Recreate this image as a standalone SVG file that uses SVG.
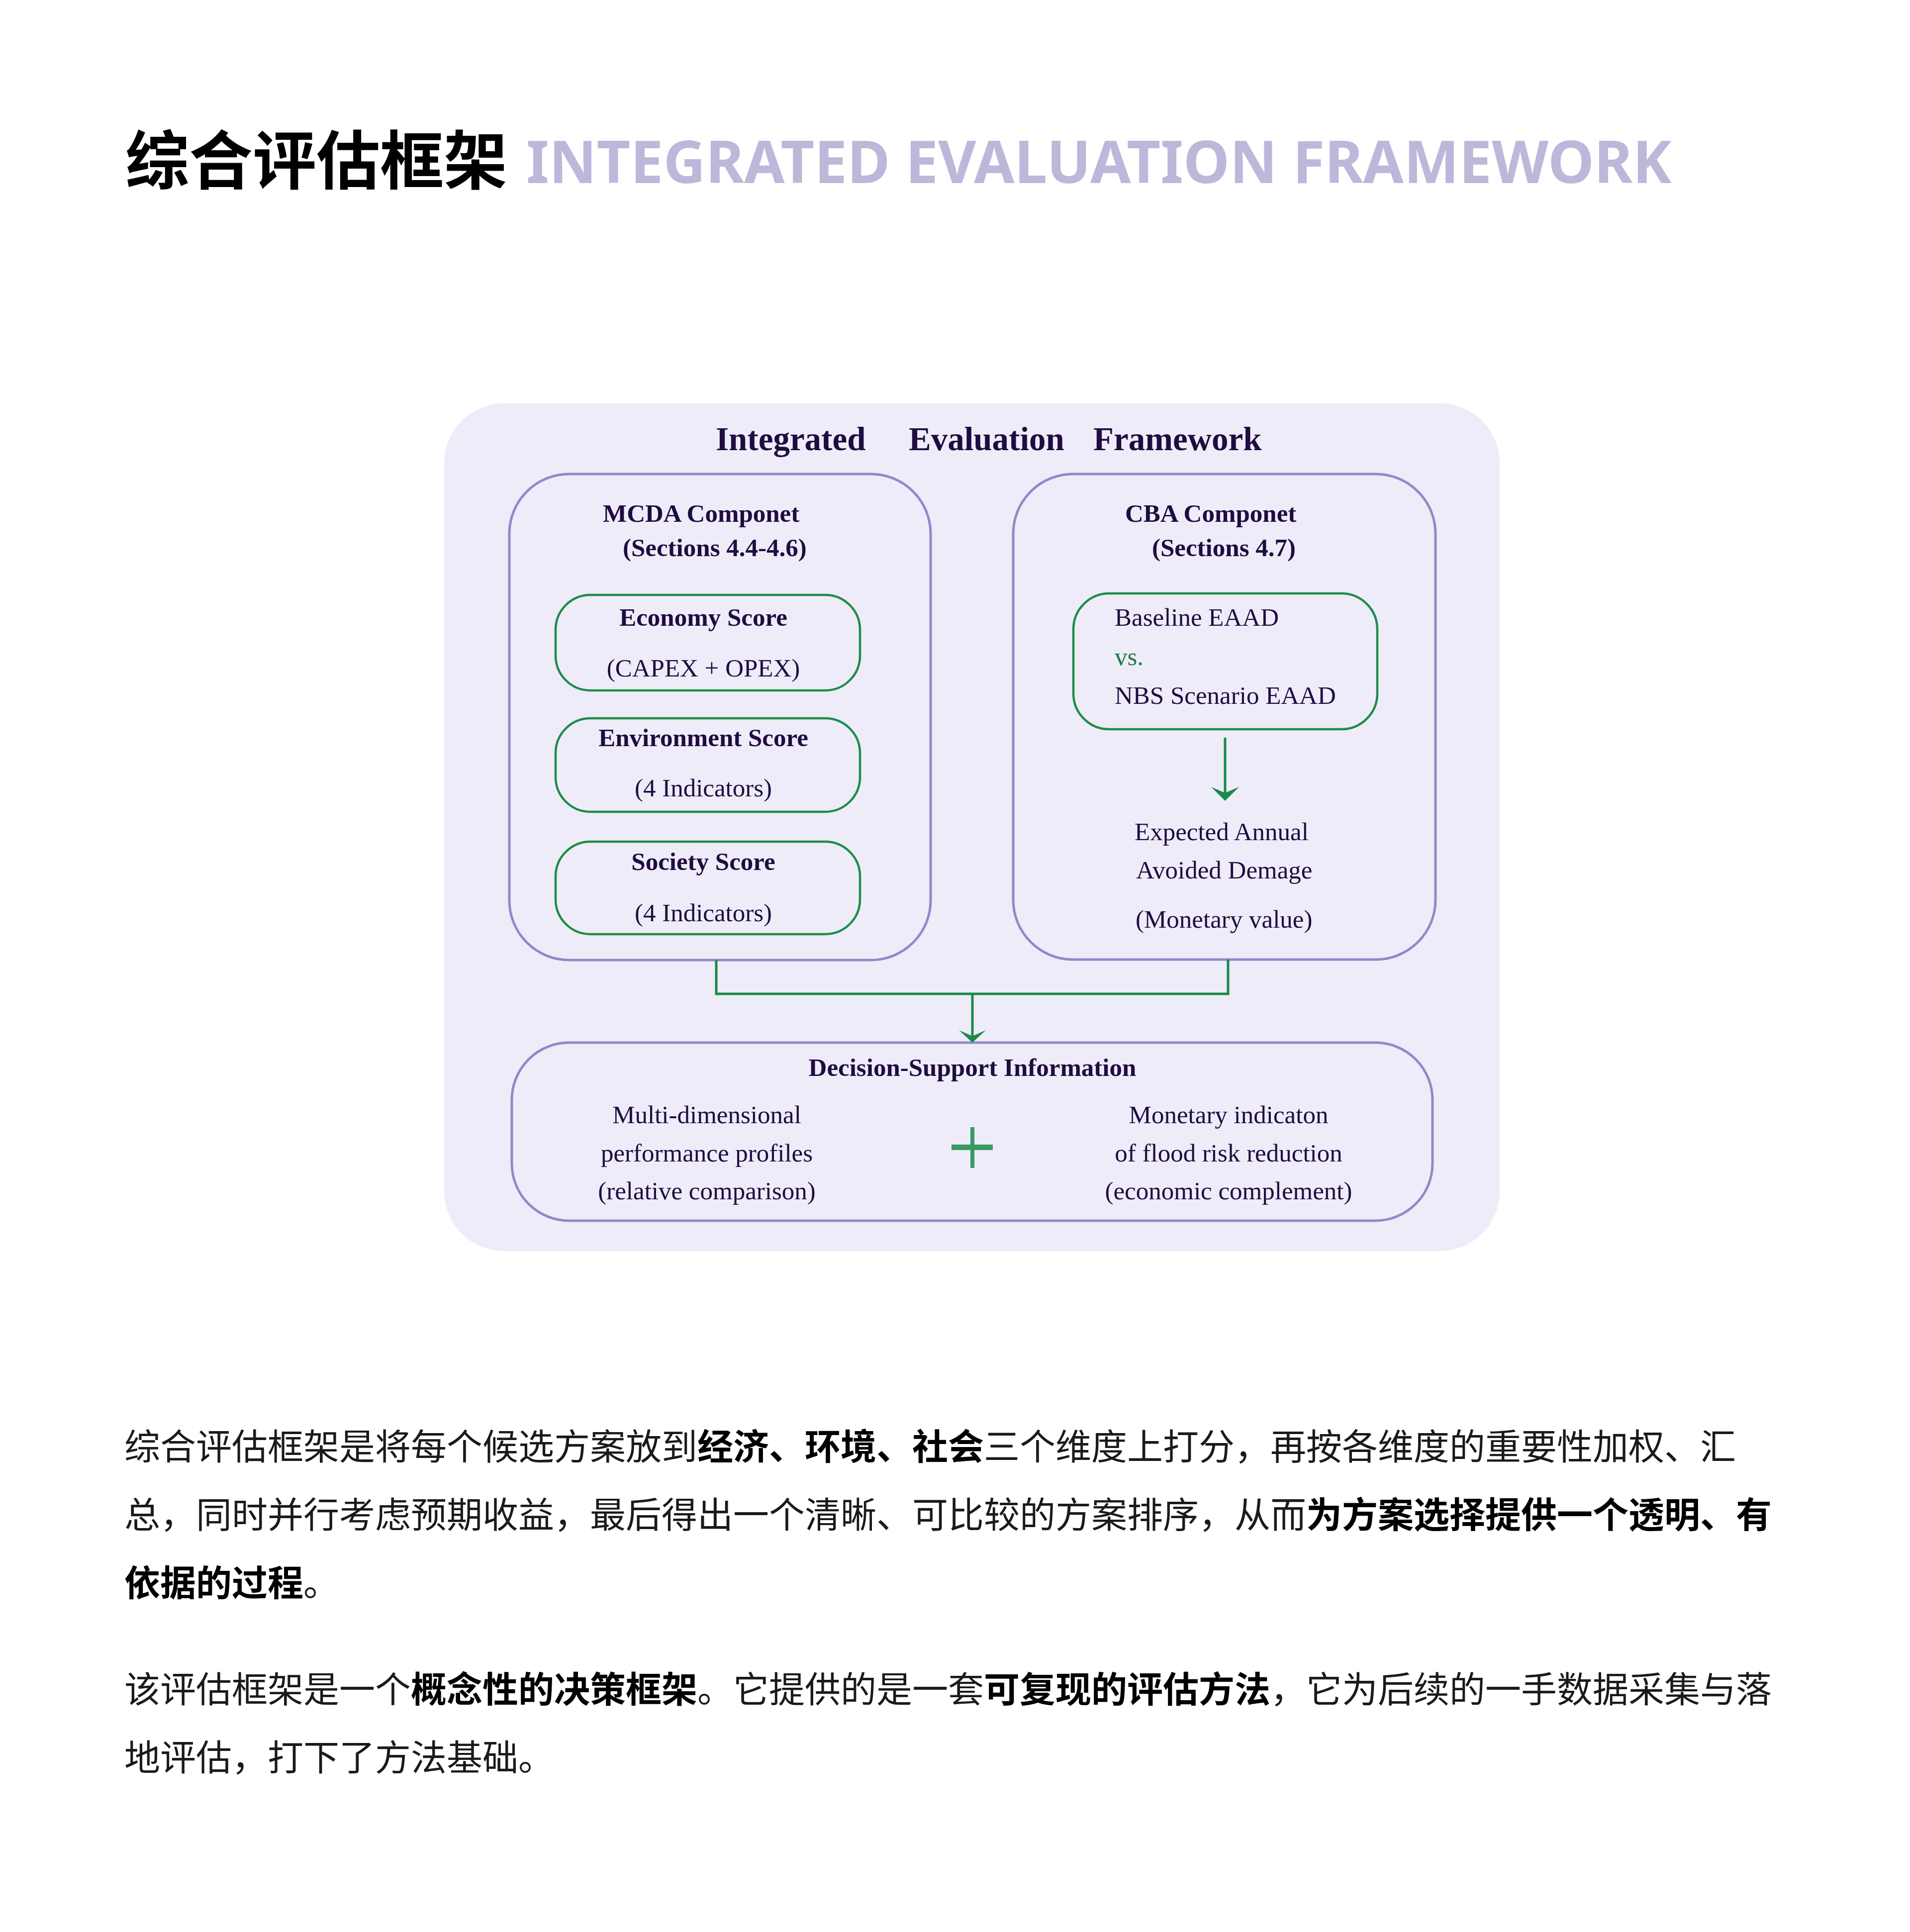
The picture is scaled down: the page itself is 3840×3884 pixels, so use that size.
<svg xmlns="http://www.w3.org/2000/svg" width="3840" height="3884" viewBox="0 0 3840 3884">
<style>
.serif{font-family:"Liberation Serif","Times New Roman",serif;font-size:51px;fill:#1f0c40}
.b{font-weight:700}
.mid{text-anchor:middle}
.ttl{font-size:67px}
.purple{fill:none;stroke:#9189c9;stroke-width:5}
.green{fill:none;stroke:#1e8c4a;stroke-width:4.5}
.conn{fill:none;stroke:#1b8a47;stroke-width:5}
.head{fill:#1b8a47}
.plus{fill:#3a9a62}
.cjk{font-family:"Noto Sans CJK SC","Noto Sans",sans-serif;font-size:72px;fill:#1a1a1a}
.cjk .k{font-weight:700;fill:#000}
</style>
<rect width="3840" height="3884" fill="#ffffff"/>
<g id="title">
<text y="370" font-family="Noto Sans CJK SC, sans-serif" font-weight="700" font-size="128" fill="#000" x="252">综合评估框架</text>
<text y="368" font-family="Noto Sans, sans-serif" font-weight="700" font-size="117.8" fill="#bcb8d9" x="1058">INTEGRATED EVALUATION FRAMEWORK</text>
</g>
<g id="framework">
<rect x="893" y="811" width="2122" height="1704" rx="120" fill="#eeecf8"/>
<text class="serif b ttl" y="905"><tspan x="1439">Integrated</tspan><tspan x="1827">Evaluation</tspan><tspan x="2198">Framework</tspan></text>
</g>
<g id="mcda">
<rect class="purple" x="1024" y="953" width="847" height="977" rx="120"/>
<text class="serif b" x="1212" y="1049">MCDA Componet</text>
<text class="serif b" x="1252" y="1118">(Sections 4.4-4.6)</text>
</g>
<g id="economy">
<rect class="green" x="1117" y="1196" width="612" height="192" rx="70"/>
<text class="serif b mid" x="1414" y="1258">Economy Score</text>
<text class="serif mid" x="1414" y="1360">(CAPEX + OPEX)</text>
</g>
<g id="environment">
<rect class="green" x="1117" y="1444" width="612" height="188" rx="70"/>
<text class="serif b mid" x="1414" y="1500">Environment Score</text>
<text class="serif mid" x="1414" y="1601">(4 Indicators)</text>
</g>
<g id="society">
<rect class="green" x="1117" y="1692" width="612" height="186" rx="70"/>
<text class="serif b mid" x="1414" y="1749">Society Score</text>
<text class="serif mid" x="1414" y="1852">(4 Indicators)</text>
</g>
<g id="cba">
<rect class="purple" x="2037" y="953" width="849" height="976" rx="120"/>
<text class="serif b" x="2262" y="1049">CBA Componet</text>
<text class="serif b" x="2316" y="1118">(Sections 4.7)</text>
</g>
<g id="eaad">
<rect class="green" x="2158" y="1193" width="611" height="273" rx="72"/>
<text class="serif" x="2241" y="1258">Baseline EAAD</text>
<text class="serif" x="2241" y="1337" style="fill:#1e7a42">vs.</text>
<text class="serif" x="2241" y="1415">NBS Scenario EAAD</text>
</g>
<g id="eaad-result">
<text class="serif" x="2281" y="1689">Expected Annual</text>
<text class="serif" x="2284" y="1766">Avoided Demage</text>
<text class="serif" x="2283" y="1865">(Monetary value)</text>
</g>
<g id="decision">
<rect class="purple" x="1029" y="2096" width="1851" height="358" rx="115"/>
<text class="serif b mid" x="1955" y="2163">Decision-Support Information</text>
<text class="serif mid" x="1421" y="2258">Multi-dimensional</text>
<text class="serif mid" x="1421" y="2335">performance profiles</text>
<text class="serif mid" x="1421" y="2411">(relative comparison)</text>
<text class="serif mid" x="2470" y="2258">Monetary indicaton</text>
<text class="serif mid" x="2470" y="2335">of flood risk reduction</text>
<text class="serif mid" x="2470" y="2411">(economic complement)</text>
<rect class="plus" x="1951" y="2266" width="8" height="82"/>
<rect class="plus" x="1913" y="2301" width="83" height="11"/>
</g>
<g id="connectors">
<line class="conn" x1="2463" y1="1483" x2="2463" y2="1600"/>
<path class="head" d="M2463,1610 L2435,1582 L2463,1594 L2491,1582 Z"/>
<polyline class="conn" points="1440,1930 1440,1998 2469,1998 2469,1929"/>
<line class="conn" x1="1955" y1="1998" x2="1955" y2="2088"/>
<path class="head" d="M1955,2096 L1928,2071 L1955,2083 L1982,2071 Z"/>
</g>
<g id="body">
<text class="cjk" x="250" y="2934">综合评估框架是将每个候选方案放到<tspan class="k">经济、环境、社会</tspan>三个维度上打分，再按各维度的重要性加权、汇</text>
<text class="cjk" x="250" y="3071">总，同时并行考虑预期收益，最后得出一个清晰、可比较的方案排序，从而<tspan class="k">为方案选择提供一个透明、有</tspan></text>
<text class="cjk" x="250" y="3208"><tspan class="k">依据的过程</tspan>。</text>
<text class="cjk" x="250" y="3422">该评估框架是一个<tspan class="k">概念性的决策框架</tspan>。它提供的是一套<tspan class="k">可复现的评估方法</tspan>，它为后续的一手数据采集与落</text>
<text class="cjk" x="250" y="3559">地评估，打下了方法基础。</text>
</g>
</svg>
